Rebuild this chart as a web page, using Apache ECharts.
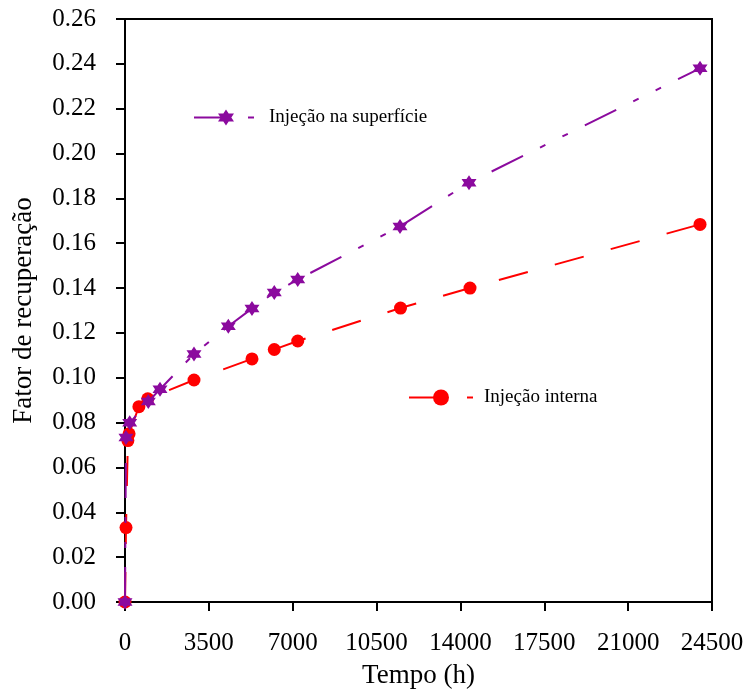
<!DOCTYPE html>
<html>
<head>
<meta charset="utf-8">
<script src="https://cdn.jsdelivr.net/npm/echarts@6/dist/echarts.min.js"></script>
<style>html,body{margin:0;padding:0;background:#fff;}#c{width:747px;height:694px;}</style>
</head>
<body>
<div id="c"></div>
<script>
// Data
const timeInterna = [0, 42, 120, 170, 580, 950, 2880, 5300, 6230, 7210, 11500, 14400, 24000];
const fatorInterna = [0, 0.0332, 0.0720, 0.0750, 0.0871, 0.0906, 0.0990, 0.1084, 0.1126, 0.1164, 0.1311, 0.1400, 0.1684];
const timeSuperficie = [0, 40, 196, 973, 1461, 2880, 4312, 5300, 6231, 7208, 11478, 14358, 24000];
const fatorSuperficie = [0, 0.0734, 0.0799, 0.0894, 0.0949, 0.1106, 0.1230, 0.1309, 0.1380, 0.1438, 0.1675, 0.1870, 0.2380];
const xTicks = [0, 3500, 7000, 10500, 14000, 17500, 21000, 24500];
const yTicks = [0.00, 0.02, 0.04, 0.06, 0.08, 0.10, 0.12, 0.14, 0.16, 0.18, 0.20, 0.22, 0.24, 0.26];
const nameInterna = 'Injeção interna';
const nameSuperficie = 'Injeção na superfície';

const FONT = 'Liberation Serif';
const star = 'path://M0,-10 L2.89,-5 L8.66,-5 L5.77,0 L8.66,5 L2.89,5 L0,10 L-2.89,5 L-8.66,5 L-5.77,0 L-8.66,-5 L-2.89,-5 Z';

const chart = echarts.init(document.getElementById('c'));
chart.setOption({
  animation: false,
  backgroundColor: '#fff',
  grid: { left: 125, right: 35, top: 19, bottom: 90, show: true, borderColor: '#000', borderWidth: 2 },
  xAxis: {
    type: 'value', min: xTicks[0], max: xTicks[xTicks.length - 1], interval: xTicks[1] - xTicks[0],
    name: 'Tempo (h)', nameLocation: 'middle', nameGap: 60,
    nameTextStyle: { fontFamily: FONT, fontSize: 27, color: '#000' },
    axisLine: { show: true, lineStyle: { color: '#000', width: 2 } },
    axisTick: { show: true, inside: false, length: 9, lineStyle: { color: '#000', width: 2 } },
    axisLabel: { fontFamily: FONT, fontSize: 25, color: '#000', margin: 29, showMinLabel: true, showMaxLabel: true,
      formatter: v => String(v) },
    splitLine: { show: false }
  },
  yAxis: {
    type: 'value', min: yTicks[0], max: yTicks[yTicks.length - 1], interval: 0.02,
    name: 'Fator de recuperação', nameLocation: 'middle', nameGap: 88,
    nameTextStyle: { fontFamily: FONT, fontSize: 27, color: '#000' },
    axisLine: { show: true, lineStyle: { color: '#000', width: 2 } },
    axisTick: { show: true, inside: false, length: 9, lineStyle: { color: '#000', width: 2 } },
    axisLabel: { fontFamily: FONT, fontSize: 25, color: '#000', margin: 29, formatter: v => v.toFixed(2) },
    splitLine: { show: false }
  },
  legend: [
    { data: [nameSuperficie], left: 193, top: 108, padding: 0, itemWidth: 64, itemHeight: 20,
      textStyle: { fontFamily: FONT, fontSize: 19, color: '#000', padding: [0, 0, 0, 6] } },
    { data: [nameInterna], left: 408, top: 388, padding: 0, itemWidth: 64, itemHeight: 20,
      textStyle: { fontFamily: FONT, fontSize: 19, color: '#000', padding: [0, 0, 0, 6] } }
  ],
  series: [
    {
      name: nameInterna, type: 'line', clip: false,
      data: timeInterna.map((t, i) => [t, fatorInterna[i]]),
      symbol: 'circle', symbolSize: 13,
      itemStyle: { color: '#ff0000' },
      lineStyle: { color: '#ff0000', width: 2, type: [30, 28] },
      z: 2
    },
    {
      name: nameSuperficie, type: 'line', clip: false,
      data: timeSuperficie.map((t, i) => [t, fatorSuperficie[i]]),
      symbol: star, symbolSize: 15,
      itemStyle: { color: '#8b0a9e' },
      lineStyle: { color: '#8b0a9e', width: 2, type: [35, 19, 6, 19, 6, 19] },
      z: 3
    }
  ]
});
</script>
</body>
</html>
